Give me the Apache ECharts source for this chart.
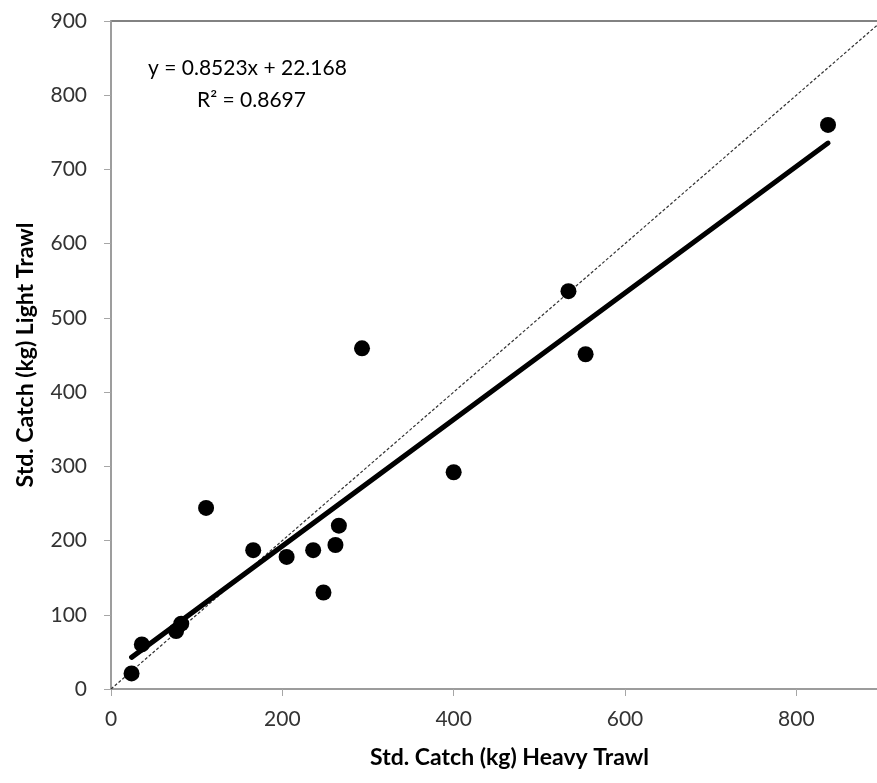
<!DOCTYPE html>
<html>
<head>
<meta charset="utf-8">
<script src="https://cdn.jsdelivr.net/npm/echarts@6/dist/echarts.min.js"></script>
<style>
  html, body { margin: 0; padding: 0; background: #fff; }
  #main { width: 877px; height: 783px; }
</style>
</head>
<body>
<div id="main"></div>
<script>
// catch per tow: heavy trawl (x) vs light trawl (y)
var heavyX = [837, 534, 554, 293, 400, 111, 166, 205, 236, 262, 266, 248, 36, 76, 82, 24];
var lightY = [760, 536, 451, 459, 292, 244, 187, 178, 187, 194, 220, 130, 60, 78, 88, 21];
// fitted line ends (y = 0.8523x + 22.168)
var trendX = [24, 837];
var trendY = [42.6, 735.5];
// 1:1 reference
var oneX = [0, 900];
var oneY = [0, 900];

var myChart = echarts.init(document.getElementById('main'));

function pairs(xs, ys) {
    var out = [];
    for (var i = 0; i < xs.length; i++) {
        out.push([xs[i], ys[i]]);
    }
    return out;
}

var labelFont = {color: '#333', fontSize: 21, fontFamily: 'Lato'};

var option = {
    animation: false,
    grid: {
        left: 111, top: 21, right: -5, bottom: 94,
        outerBoundsMode: 'none',
        show: true, borderColor: '#5a5a5a', borderWidth: 1.5
    },
    xAxis: {
        type: 'value', min: 0, max: 900, interval: 200,
        name: 'Std. Catch (kg) Heavy Trawl',
        nameLocation: 'middle', nameGap: 57,
        nameTextStyle: {fontFamily: 'Lato', fontWeight: 'bold', fontSize: 23, color: '#000', padding: [0, 0, 0, 26]},
        axisLine: {lineStyle: {color: '#a6a6a6', width: 1.5}},
        axisTick: {show: true, length: 7, lineStyle: {color: '#a6a6a6'}},
        axisLabel: Object.assign({margin: 20, showMaxLabel: false}, labelFont),
        splitLine: {show: false}
    },
    yAxis: {
        type: 'value', min: 0, max: 900, interval: 100,
        name: 'Std. Catch (kg) Light Trawl',
        nameLocation: 'middle', nameGap: 74,
        nameTextStyle: {fontFamily: 'Lato', fontWeight: 'bold', fontSize: 23, color: '#000'},
        axisLine: {lineStyle: {color: '#a6a6a6', width: 1.5}},
        axisTick: {show: true, length: 7, lineStyle: {color: '#a6a6a6'}},
        axisLabel: Object.assign({margin: 24}, labelFont),
        splitLine: {show: false}
    },
    series: [
        {
            name: '1:1',
            type: 'line',
            data: pairs(oneX, oneY),
            symbol: 'none',
            lineStyle: {color: '#333', width: 1.2, type: [3, 2]},
            z: 1
        },
        {
            name: 'trend',
            type: 'line',
            data: pairs(trendX, trendY),
            symbol: 'none',
            lineStyle: {color: '#000', width: 5, cap: 'round'},
            z: 2
        },
        {
            name: 'catch',
            type: 'scatter',
            data: pairs(heavyX, lightY),
            symbolSize: 16,
            itemStyle: {color: '#000', opacity: 1},
            z: 3
        }
    ],
    graphic: [
        {
            type: 'text', left: 148, top: 58,
            style: {text: 'y = 0.8523x + 22.168', fontFamily: 'Lato', fontSize: 21, fill: '#000'}
        },
        {
            type: 'text', left: 197, top: 90,
            style: {text: 'R² = 0.8697', fontFamily: 'Lato', fontSize: 21, fill: '#000'}
        }
    ]
};
myChart.setOption(option);
</script>
</body>
</html>
